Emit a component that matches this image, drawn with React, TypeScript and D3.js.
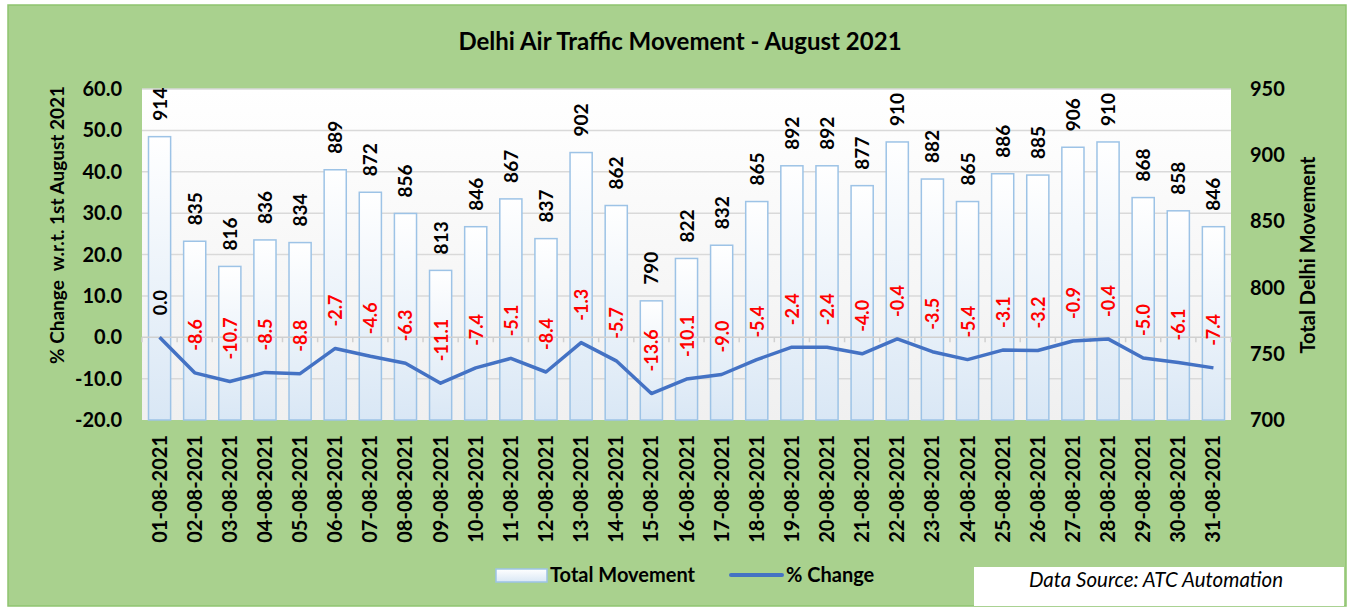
import * as d3 from 'd3';
import React from 'react';

const dates = [
  '01-08-2021', '02-08-2021', '03-08-2021', '04-08-2021', '05-08-2021', '06-08-2021', '07-08-2021',
  '08-08-2021', '09-08-2021', '10-08-2021', '11-08-2021', '12-08-2021', '13-08-2021', '14-08-2021',
  '15-08-2021', '16-08-2021', '17-08-2021', '18-08-2021', '19-08-2021', '20-08-2021', '21-08-2021',
  '22-08-2021', '23-08-2021', '24-08-2021', '25-08-2021', '26-08-2021', '27-08-2021', '28-08-2021',
  '29-08-2021', '30-08-2021', '31-08-2021',
];
const totalMovement = [
  914, 835, 816, 836, 834, 889, 872, 856, 813, 846, 867, 837, 902, 862, 790, 822,
  832, 865, 892, 892, 877, 910, 882, 865, 886, 885, 906, 910, 868, 858, 846,
];
const pctChange = [
  0.0, -8.6, -10.7, -8.5, -8.8, -2.7, -4.6, -6.3, -11.1, -7.4, -5.1, -8.4, -1.3, -5.7, -13.6, -10.1,
  -9.0, -5.4, -2.4, -2.4, -4.0, -0.4, -3.5, -5.4, -3.1, -3.2, -0.9, -0.4, -5.0, -6.1, -7.4,
];
const leftTicks = [-20, -10, 0, 10, 20, 30, 40, 50, 60];
const rightTicks = [700, 750, 800, 850, 900, 950];

const W = 1353;
const H = 610;
const plot = { left: 142, right: 1231, top: 89, bottom: 420 };
const font = 'Lato, "Open Sans", sans-serif';

const App: React.FC = () => {
  const x = d3.scaleBand<string>().domain(dates).range([plot.left, plot.right]).paddingInner(0.37).paddingOuter(0.185);
  const yL = d3.scaleLinear().domain([-20, 60]).range([plot.bottom, plot.top]);
  const yR = d3.scaleLinear().domain([700, 950]).range([plot.bottom, plot.top]);
  const step = x.step();

  const line = d3.line<number>()
    .x((_d, i) => (x(dates[i]) ?? 0) + x.bandwidth() / 2)
    .y((d) => yL(d));

  return (
    <svg width={W} height={H} style={{ position: 'absolute', left: 0, top: 0, display: 'block' }} fontFamily={font}>
      <defs>
        <linearGradient id="plotBg" x1="0" y1="0" x2="0" y2="1">
          <stop offset="0" stopColor="#ffffff" />
          <stop offset="1" stopColor="#f0f0f0" />
        </linearGradient>
        <linearGradient id="barFill" x1="0" y1="0" x2="0" y2="1">
          <stop offset="0" stopColor="#ffffff" />
          <stop offset="1" stopColor="#d9e7f5" />
        </linearGradient>
      </defs>
      <rect x={8} y={5} width={1338} height={601} fill="#a9d18e" stroke="#8fc46f" strokeWidth={1.5} />
      <text x={680} y={50} textAnchor="middle" fontSize={24} fontWeight={700}>
        Delhi Air Traffic Movement - August 2021
      </text>

      <rect x={plot.left} y={plot.top} width={plot.right - plot.left} height={plot.bottom - plot.top} fill="url(#plotBg)" />
      {leftTicks.filter((t) => t !== 0 && t !== -20).map((t) => (
        <line key={t} x1={plot.left} x2={plot.right} y1={yL(t)} y2={yL(t)} stroke="#d9d9d9" strokeWidth={1.5} />
      ))}

      {totalMovement.map((v, i) => (
        <rect key={dates[i]} x={x(dates[i])} y={yR(v)} width={x.bandwidth()} height={plot.bottom - yR(v)}
          fill="url(#barFill)" stroke="#9dc3e6" strokeWidth={1.5} />
      ))}

      <line x1={plot.left} x2={plot.right} y1={yL(0)} y2={yL(0)} stroke="#d0d0d0" strokeWidth={1.5} />
      {d3.range(dates.length + 1).map((i) => (
        <line key={i} x1={plot.left + i * step} x2={plot.left + i * step} y1={yL(0)} y2={yL(0) + 5}
          stroke="#d0d0d0" strokeWidth={1.5} />
      ))}

      <path d={line(pctChange) ?? ''} fill="none" stroke="#4472c4" strokeWidth={3.5} strokeLinejoin="round" />

      {totalMovement.map((v, i) => {
        const cx = (x(dates[i]) ?? 0) + x.bandwidth() / 2;
        const y = yR(v) - 16;
        return (
          <text key={dates[i]} transform={`translate(${cx + 7},${y}) rotate(-90)`} fontSize={19} fontWeight={700} fill="#000">
            {v}
          </text>
        );
      })}
      {pctChange.map((v, i) => {
        const cx = (x(dates[i]) ?? 0) + x.bandwidth() / 2;
        const y = yL(v) - 22;
        return (
          <text key={dates[i]} transform={`translate(${cx + 7},${y}) rotate(-90)`} fontSize={18} fontWeight={700}
            fill={v === 0 ? '#000' : '#ff0000'}>
            {v.toFixed(1)}
          </text>
        );
      })}

      {leftTicks.map((t) => (
        <text key={t} x={122} y={yL(t) + 7} textAnchor="end" fontSize={20} fontWeight={700}>{t.toFixed(1)}</text>
      ))}
      {rightTicks.map((t) => (
        <text key={t} x={1250} y={yR(t) + 7} textAnchor="start" fontSize={20} fontWeight={700}>{t}</text>
      ))}
      {dates.map((d) => (
        <text key={d} transform={`translate(${(x(d) ?? 0) + x.bandwidth() / 2 + 7},${435}) rotate(-90)`}
          textAnchor="end" fontSize={20} fontWeight={700}>{d}</text>
      ))}

      <text transform={`translate(${64},${225}) rotate(-90)`} textAnchor="middle" fontSize={19} fontWeight={700}>
        {'% Change\u00a0 w.r.t. 1st August 2021'}
      </text>
      <text transform={`translate(${1315},${255}) rotate(-90)`} textAnchor="middle" fontSize={20} fontWeight={700}>
        Total Delhi Movement
      </text>

      <rect x={496} y={569} width={51} height={13} fill="url(#barFill)" stroke="#9dc3e6" strokeWidth={1.5} />
      <text x={550} y={582} fontSize={20} fontWeight={700}>Total Movement</text>
      <line x1={731} x2={782} y1={575} y2={575} stroke="#4472c4" strokeWidth={4} strokeLinecap="round" />
      <text x={786} y={582} fontSize={20} fontWeight={700}>% Change</text>

      <rect x={974} y={567} width={370} height={39} fill="#ffffff" />
      <text x={1156} y={587} textAnchor="middle" fontSize={20.5} fontStyle="italic">Data Source: ATC Automation</text>
    </svg>
  );
};

export default App;
